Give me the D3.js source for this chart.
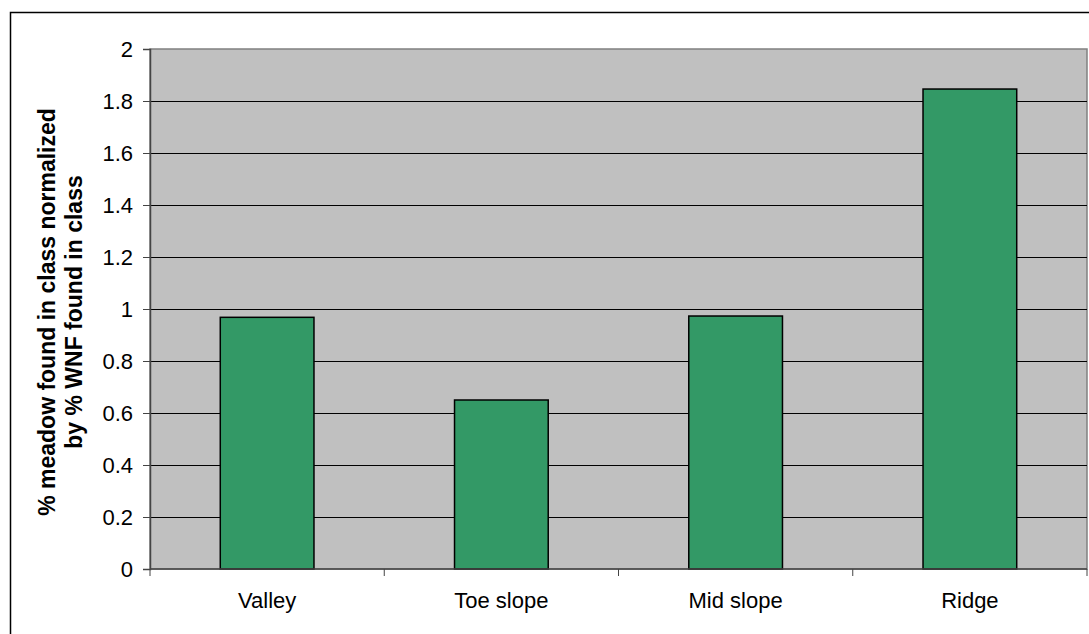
<!DOCTYPE html>
<html>
<head>
<meta charset="utf-8">
<title>Meadow by slope class</title>
<script src="https://d3js.org/d3.v7.min.js"></script>
<style>
  body { margin: 0; background: #fff; }
</style>
</head>
<body>
<svg id="chart" width="1089" height="634" font-family="Liberation Sans, Arial, sans-serif"></svg>
<script>
var categories = ["Valley", "Toe slope", "Mid slope", "Ridge"];
var values = [0.968, 0.65, 0.973, 1.846];
var yTicks = [0, 0.2, 0.4, 0.6, 0.8, 1, 1.2, 1.4, 1.6, 1.8, 2];
var yTitle = ["% meadow found in class normalized", "by % WNF found in class"];

var svg = d3.select("#chart");
var plotL = 150, plotR = 1087, plotT = 49, plotB = 569;

// outer chart frame
svg.append("rect").attr("x", 10.5).attr("y", 12.5).attr("width", 1100).attr("height", 700)
   .attr("fill", "#fff").attr("stroke", "#000").attr("stroke-width", 1.5);

var x = d3.scaleBand().domain(categories).range([plotL, plotR]).paddingInner(0.6).paddingOuter(0.3);
var y = d3.scaleLinear().domain([0, 2]).range([plotB, plotT]);

svg.append("rect").attr("x", plotL).attr("y", plotT).attr("width", plotR - plotL).attr("height", plotB - plotT)
   .attr("fill", "#c0c0c0").attr("stroke", "#808080").attr("stroke-width", 1.5);

svg.selectAll("line.grid").data(yTicks.filter(function (d) { return d > 0 && d < 2; }))
   .enter().append("line").attr("class", "grid")
   .attr("x1", plotL).attr("x2", plotR)
   .attr("y1", function (d) { return Math.round(y(d)) + 0.5; })
   .attr("y2", function (d) { return Math.round(y(d)) + 0.5; })
   .attr("stroke", "#000").attr("stroke-width", 1);

svg.selectAll("rect.bar").data(values).enter().append("rect").attr("class", "bar")
   .attr("x", function (d, i) { return x(categories[i]); })
   .attr("width", x.bandwidth())
   .attr("y", function (d) { return y(d); })
   .attr("height", function (d) { return plotB - y(d); })
   .attr("fill", "#339966").attr("stroke", "#000").attr("stroke-width", 1.5);

var yAxis = svg.append("g").attr("transform", "translate(" + plotL + ",0)")
   .call(d3.axisLeft(y).tickValues(yTicks).tickSize(7).tickPadding(10).tickFormat(d3.format("")));
yAxis.select(".domain").attr("stroke", "#444").attr("stroke-width", 1.5);
yAxis.selectAll(".tick line").attr("stroke", "#444");
yAxis.selectAll("text").attr("font-size", 22).attr("fill", "#000").attr("font-family", "Liberation Sans, Arial, sans-serif");

var step = (plotR - plotL) / categories.length;
var xAxis = svg.append("g").attr("transform", "translate(0," + plotB + ")");
xAxis.append("line").attr("x1", plotL).attr("x2", plotR).attr("stroke", "#444").attr("stroke-width", 1.5);
xAxis.selectAll("line.tk").data(d3.range(categories.length + 1)).enter().append("line").attr("class", "tk")
   .attr("x1", function (d) { return plotL + d * step; }).attr("x2", function (d) { return plotL + d * step; })
   .attr("y1", 0).attr("y2", 7).attr("stroke", "#444");
xAxis.selectAll("text").data(categories).enter().append("text")
   .attr("x", function (d) { return x(d) + x.bandwidth() / 2; })
   .attr("y", 39).attr("text-anchor", "middle").attr("font-size", 22).text(function (d) { return d; });

var title = svg.append("text").attr("transform", "translate(55,312) rotate(-90)")
   .attr("text-anchor", "middle").attr("font-size", 23).attr("font-weight", "bold");
title.selectAll("tspan").data(yTitle).enter().append("tspan")
   .attr("x", 0).attr("dy", function (d, i) { return i ? 27 : 0; }).text(function (d) { return d; });
</script>
</body>
</html>
